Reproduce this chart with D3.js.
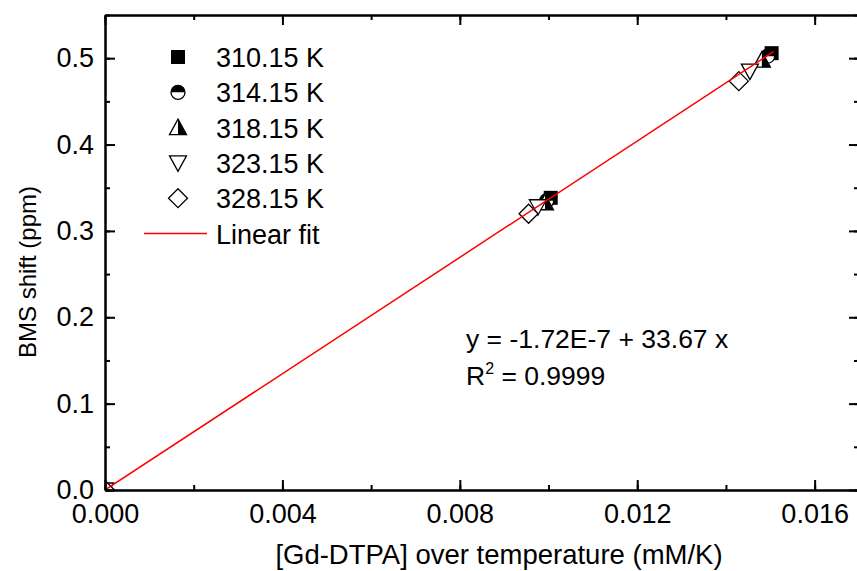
<!DOCTYPE html>
<html><head><meta charset="utf-8">
<script src="https://cdn.jsdelivr.net/npm/d3@7"></script>
<style>body{margin:0;background:#fff}svg{display:block;font-family:"Liberation Sans",Arial,sans-serif}</style>
</head><body><svg id="c" width="857" height="571"></svg>
<script>
const temps = ["310.15 K","314.15 K","318.15 K","323.15 K","328.15 K"];
const xVals = [
  [0, 0.01005, 0.01503],
  [0, 0.00996, 0.01494],
  [0, 0.00992, 0.01481],
  [0, 0.00976, 0.01454],
  [0, 0.00955, 0.01429]
];
const yVals = [
  [0, 0.3383, 0.5058],
  [0, 0.3349, 0.5023],
  [0, 0.3326, 0.4977],
  [0, 0.3280, 0.4850],
  [0, 0.3199, 0.4734]
];
const fitIntercept = -1.72e-7, fitSlope = 33.67;
const fitX = [0, 0.01508];
const xTicks = [0, 0.004, 0.008, 0.012, 0.016];
const yTicks = [0, 0.1, 0.2, 0.3, 0.4, 0.5];
const xTitle = "[Gd-DTPA] over temperature (mM/K)";
const yTitle = "BMS shift (ppm)";

const svg = d3.select("#c");
const L=105, R=859, T=15, B=490;
const x = d3.scaleLinear().domain([0,0.017]).range([L,R]);
const y = d3.scaleLinear().domain([0,0.55]).range([B,T]);

svg.append("defs").append("clipPath").attr("id","clip").append("rect")
  .attr("x",L).attr("y",T).attr("width",R-L).attr("height",B-T);

function marker(g, k){
  if(k===0){
    g.append("rect").attr("x",-7).attr("y",-7).attr("width",14).attr("height",14).attr("fill","#000");
  } else if(k===1){
    const r=7;
    g.append("circle").attr("r",r).attr("fill","#fff").attr("stroke","#000").attr("stroke-width",1.3);
    g.append("path").attr("d",`M${-r},0A${r},${r} 0 0 1 ${r},0Z`).attr("fill","#000");
  } else if(k===2){
    g.append("path").attr("d","M0,-8.5L8.5,7L-8.5,7Z").attr("fill","#fff").attr("stroke","#000").attr("stroke-width",1.3);
    g.append("path").attr("d","M0,-8.5L8.5,7L0,7Z").attr("fill","#000");
  } else if(k===3){
    g.append("path").attr("d","M-8.5,-7L8.5,-7L0,8.5Z").attr("fill","#fff").attr("stroke","#000").attr("stroke-width",1.3);
  } else {
    g.append("path").attr("d","M0,-9.5L9.5,0L0,9.5L-9.5,0Z").attr("fill","#fff").attr("stroke","#000").attr("stroke-width",1.3);
  }
}

const plot = svg.append("g").attr("clip-path","url(#clip)");
temps.forEach((t,k)=>{
  xVals[k].forEach((xv,i)=>{
    const g = plot.append("g").attr("transform",`translate(${x(xv)},${y(yVals[k][i])})`);
    marker(g,k);
  });
});
plot.append("path")
  .datum(fitX)
  .attr("d", d3.line().x(d=>x(d)).y(d=>y(fitIntercept+fitSlope*d)))
  .attr("stroke","#ff0000").attr("stroke-width",1.5).attr("fill","none");

const fmtX = d3.format(".3f"), fmtY = d3.format(".1f");
const xMinor = d3.range(0,0.0171,0.002);
const yMinor = d3.range(0,0.551,0.05);
svg.append("g").attr("transform",`translate(0,${B})`)
  .call(d3.axisBottom(x).tickValues(xTicks).tickFormat(fmtX).tickSizeInner(-10).tickSizeOuter(0).tickPadding(14));
svg.append("g").attr("transform",`translate(0,${T})`)
  .call(d3.axisTop(x).tickValues(xTicks).tickFormat("").tickSizeInner(-10).tickSizeOuter(0));
svg.append("g").attr("transform",`translate(${L},0)`)
  .call(d3.axisLeft(y).tickValues(yTicks).tickFormat(fmtY).tickSizeInner(-10).tickSizeOuter(0).tickPadding(11));
svg.append("g").attr("transform",`translate(${R},0)`)
  .call(d3.axisRight(y).tickValues(yTicks).tickFormat("").tickSizeInner(-10).tickSizeOuter(0));
svg.append("g").attr("transform",`translate(0,${B})`).call(d3.axisBottom(x).tickValues(xMinor).tickFormat("").tickSizeInner(-5).tickSizeOuter(0));
svg.append("g").attr("transform",`translate(0,${T})`).call(d3.axisTop(x).tickValues(xMinor).tickFormat("").tickSizeInner(-5).tickSizeOuter(0));
svg.append("g").attr("transform",`translate(${L},0)`).call(d3.axisLeft(y).tickValues(yMinor).tickFormat("").tickSizeInner(-5).tickSizeOuter(0));
svg.append("g").attr("transform",`translate(${R},0)`).call(d3.axisRight(y).tickValues(yMinor).tickFormat("").tickSizeInner(-5).tickSizeOuter(0));

svg.selectAll(".domain").attr("stroke","#000").attr("stroke-width",2);
svg.selectAll(".tick line").attr("stroke","#000").attr("stroke-width",2);
svg.selectAll(".tick text").attr("font-size",27).attr("fill","#000").attr("font-family","'Liberation Sans',Arial,sans-serif");

svg.append("text").attr("x",499).attr("y",564).attr("text-anchor","middle")
  .attr("font-size",27.5).attr("fill","#000").text(xTitle);
svg.append("text").attr("transform",`translate(36,272) rotate(-90)`).attr("text-anchor","middle")
  .attr("font-size",24).attr("fill","#000").text(yTitle);

const legY0 = 57, legDy = 35.3;
temps.forEach((t,k)=>{
  const g = svg.append("g").attr("transform",`translate(178,${legY0+k*legDy})`);
  marker(g,k);
  svg.append("text").attr("x",216).attr("y",legY0+k*legDy+10).attr("font-size",27).attr("fill","#000").text(t);
});
svg.append("line").attr("x1",144).attr("x2",207).attr("y1",legY0+5*legDy).attr("y2",legY0+5*legDy)
  .attr("stroke","#ff0000").attr("stroke-width",1.5);
svg.append("text").attr("x",216).attr("y",legY0+5*legDy+10).attr("font-size",27).attr("fill","#000").text("Linear fit");

svg.append("text").attr("x",466).attr("y",348).attr("font-size",26.5).attr("fill","#000").text("y = -1.72E-7 + 33.67 x");
const r2 = svg.append("text").attr("x",466).attr("y",385).attr("font-size",26.5).attr("fill","#000");
r2.append("tspan").text("R");
r2.append("tspan").attr("font-size",16).attr("dy",-11).text("2");
r2.append("tspan").attr("dy",11).text(" = 0.9999");
</script></body></html>
